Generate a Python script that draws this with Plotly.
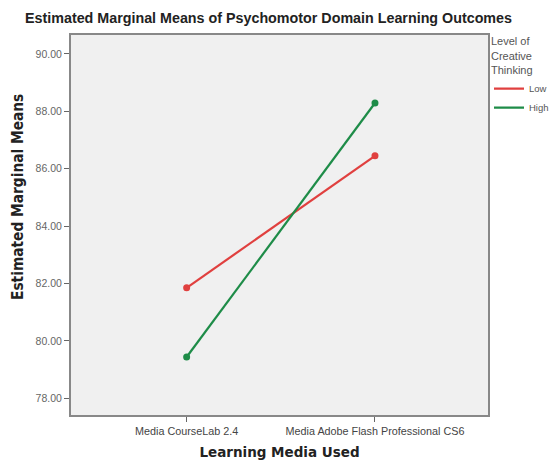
import plotly.graph_objects as go

categories = ["Media CourseLab 2.4", "Media Adobe Flash Professional CS6"]
low_values = [81.85, 86.45]
high_values = [79.44, 88.29]
series_names = ["Low", "High"]
y_ticks = [78, 80, 82, 84, 86, 88, 90]
y_tick_labels = ["78.00", "80.00", "82.00", "84.00", "86.00", "88.00", "90.00"]

colors = ["#e0403f", "#1e8c48"]

W, H = 551, 461
ML, MR, MT, MB = 71, 63, 35, 46
plot_w = W - ML - MR
plot_h = H - MT - MB

fig = go.Figure()
for name, vals, col in zip(series_names, [low_values, high_values], colors):
    fig.add_trace(go.Scatter(
        x=[0, 1], y=vals, mode="lines+markers", name=name,
        line=dict(color=col, width=2.2),
        marker=dict(color=col, size=7),
        showlegend=False,
    ))
# legend entries (line only, as in the reference)
for name, col in zip(series_names, colors):
    fig.add_trace(go.Scatter(
        x=[None], y=[None], mode="lines", name=name,
        line=dict(color=col, width=2.2),
    ))

fig.update_layout(
    width=W, height=H,
    margin=dict(l=ML, r=MR, t=MT, b=MB, autoexpand=False),
    paper_bgcolor="white",
    plot_bgcolor="#f0f0f0",
    font=dict(family="Liberation Sans, Arial", color="#555555", size=10),
    title=dict(text="<b>Estimated Marginal Means of Psychomotor Domain Learning Outcomes</b>",
               x=(268.5 - ML) / plot_w, xref="paper", xanchor="center", y=1 - 18 / H, yref="container", yanchor="middle",
               font=dict(size=14.3, color="#222222", family="Liberation Sans, Arial")),
    showlegend=True,
    legend=dict(
        x=(489 - ML) / plot_w, xanchor="left", y=1.01, yanchor="top",
        title=dict(text="Level of<br>Creative<br>Thinking", side="top",
                   font=dict(size=11, color="#555555")),
        font=dict(size=9.5, color="#555555"),
        bgcolor="rgba(0,0,0,0)",
        itemwidth=30,
        tracegroupgap=0,
    ),
    annotations=[dict(
        text="<b>Estimated Marginal Means</b>", textangle=-90,
        x=(18 - ML) / plot_w, xref="paper", y=(H - MB - 197) / plot_h, yref="paper",
        xanchor="center", yanchor="middle", showarrow=False,
        font=dict(size=15.3, color="#222222", family="DejaVu Sans Condensed"),
    )],
)

fig.update_xaxes(
    tickmode="array", tickvals=[0, 1], ticktext=categories,
    range=[-0.614, 1.6],
    showgrid=False, zeroline=False,
    showline=True, linecolor="#888888", linewidth=2, mirror=True,
    ticks="outside", ticklen=5, tickcolor="#666666",
    tickfont=dict(size=10.8, color="#444444"),
    title=dict(text="<b>Learning Media Used</b>", standoff=12,
               font=dict(size=13.5, color="#222222", family="DejaVu Sans")),
)
fig.update_yaxes(
    tickmode="array", tickvals=y_ticks, ticktext=y_tick_labels,
    range=[77.42, 90.66],
    showgrid=False, zeroline=False,
    showline=True, linecolor="#888888", linewidth=2, mirror=True,
    ticks="outside", ticklen=5, tickcolor="#666666",
    tickfont=dict(size=10.5, color="#666666"),
)

fig.write_html(
    "out.html",
    config={"displayModeBar": False},
    post_script="document.body.style.margin='0';document.body.style.overflow='hidden';",
)
